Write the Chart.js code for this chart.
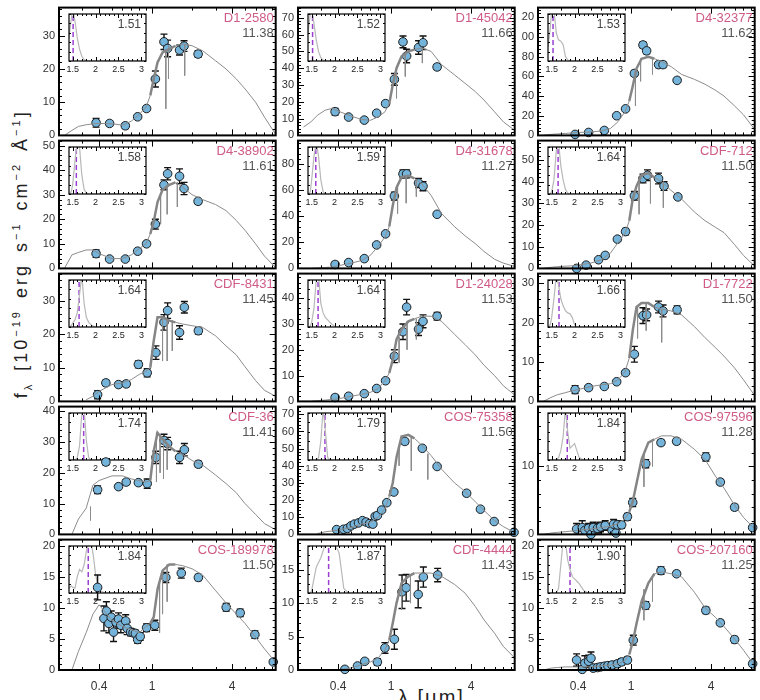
<!DOCTYPE html>
<html>
<head>
<meta charset="utf-8">
<script src="https://cdn.jsdelivr.net/npm/chart.js@4.4.1/dist/chart.umd.min.js"></script>
<style>
  body { margin: 0; background: #fff; }
  #page { position: relative; width: 760px; height: 700px; overflow: hidden; font-family: "Liberation Sans", Arial, sans-serif; }
  #page canvas { position: absolute; }
  #ylab { position: absolute; left: -228px; top: 242px; width: 500px; text-align: center; transform: rotate(-90deg);
          font-size: 18px; letter-spacing: 3px; word-spacing: 3px; color: #222; white-space: nowrap; }
  #xlab { position: absolute; left: 398px; top: 686px; font-size: 20px; letter-spacing: 2px; color: #222; white-space: nowrap; }
  sub, sup { font-size: 11px; }
</style>
</head>
<body>
<div id="page">
  <div id="ylab">f<sub>λ</sub> [10<sup>−19</sup> erg s<sup>−1</sup> cm<sup>−2</sup> Å<sup>−1</sup>]</div>
  <div id="xlab">λ [μm]</div>
</div>
<script>
// wavelength grid of the model spectra (micron)
const modelLam = [0.22,0.25,0.28,0.32,0.36,0.4,0.5,0.6,0.7,0.8,0.9,0.97,1.03,1.1,1.2,1.35,1.5,1.7,2.0,2.4,3.0,3.6,4.3,5.0,6.0,7.0,8.5];
// redshift grid of the P(z) insets
const pzZ = [1.42,1.47,1.5,1.55,1.6,1.65,1.7,1.75,1.8,1.85,1.9,1.95,2.0,2.05,2.1,2.2,2.3,2.5,3.1];
const xLabels = [0.4, 1, 4];
const pzLabels = [1.5, 2, 2.5, 3];

const names = ['D1-2580','D1-45042','D4-32377','D4-38902','D4-31678','CDF-712','CDF-8431','D1-24028','D1-7722',
               'CDF-36','COS-75358','COS-97596','COS-189978','CDF-4444','COS-207160'];
const masses = ['11.38','11.66','11.62','11.61','11.27','11.50','11.45','11.53','11.50','11.41','11.50','11.28','11.50','11.43','11.25'];
const redshifts = ['1.51','1.52','1.53','1.58','1.59','1.64','1.64','1.64','1.66','1.74','1.79','1.84','1.84','1.87','1.90'];
const yTop = [38.5,76,130, 52,98,59, 38,49.5,32.5, 41.5,74.5,18.8, 21,19.5,21];
const yStep = [10,10,20, 10,20,10, 10,10,10, 10,10,10, 5,5,5];

// photometry: wavelengths
const lamD1 = [0.38,0.48,0.63,0.78,0.91,1.06,1.23,1.31,1.61,1.74,2.22];
const lamCdf712 = [0.39,0.46,0.57,0.64,0.79,0.91,1.06,1.23,1.33,1.61,1.77,2.25];
const lamCdf = [0.39,0.45,0.56,0.64,0.79,0.92,1.07,1.23,1.31,1.61,1.75,2.23];
const lamCos75358 = [0.39,0.44,0.47,0.5,0.53,0.57,0.61,0.65,0.69,0.73,0.76,0.79,0.85,0.93,1.05,1.27,1.72,2.22,3.7,4.7,5.96,8.4];
const lamCos97596 = [0.39,0.43,0.45,0.48,0.5,0.52,0.56,0.59,0.64,0.72,0.74,0.77,0.79,0.85,0.94,1.03,1.29,1.68,2.2,3.65,4.69,6.0,8.2];
const lamCos189978 = [0.39,0.435,0.454,0.474,0.494,0.514,0.537,0.56,0.583,0.634,0.65,0.69,0.72,0.75,0.78,0.815,0.91,1.05,1.27,1.66,2.23,3.61,4.6,5.93,8.15];
const lamCdf4444 = [0.45,0.56,0.635,0.79,0.9,1.06,1.21,1.3,1.6,1.75,2.24];
const lamCos207160 = [0.39,0.43,0.45,0.48,0.5,0.52,0.56,0.59,0.63,0.67,0.72,0.79,0.85,0.94,1.04,1.29,1.68,2.2,3.65,4.69,6.0,8.2];

// photometry: fluxes and errors
const fluxD12580 = [3.8,3.6,2.9,5.6,8.1,17,28.2,26.2,25.7,26.9,24.5];
const errD12580 = [1.3,0.8,0.8,0.6,0.8,2.4,2.3,2.5,1.5,1.6,1.0];
const fluxD145042 = [14.1,10.9,9.1,13.2,18.9,33.3,55.6,47.2,52.3,55.1,40.7];
const errD145042 = [2,1,1,1,1.5,3.5,3.5,4,4,4,1.5];
const fluxD432377 = [1,3,5,20,27,63,92,86,72,72,56];
const errD432377 = [1,1.5,2,2,2,3,3,3,3,3,2];
const fluxD438902 = [6,3.8,3.8,7,10,18,34,38.5,37.5,32.5,27.3];
const errD438902 = [1.5,0.8,0.8,0.8,1,2,2,2.5,3,2.5,1];
const fluxD431678 = [3,4.5,7.5,18,26.5,55.5,72.5,72.5,65.5,63,41.5];
const errD431678 = [2,1.5,1.5,1.5,1.5,3,3,3,3.5,3.5,1.5];
const fluxCdf712 = [0,1.5,4,6,13.5,17,33.5,41.5,43,41.5,38,33];
const errCdf712 = [0.5,0.5,0.5,0.5,1,1.5,2,2,2.5,2.5,2,1];
const fluxCdf8431 = [2,5.5,5,5.2,11,8.5,14.5,23.5,27,20.5,28,21];
const errCdf8431 = [1.2,0.8,0.8,0.8,1,1.2,2,2.3,2.3,2,1.7,1];
const fluxD124028 = [1.5,2,3,5,8,17.5,27,36.5,28,31,33];
const errD124028 = [1,0.8,0.6,0.8,0.8,2.5,3,3,2.5,2.5,1.5];
const fluxD17722 = [3,3.5,3.8,5,7.3,12,21.8,22,24,23,23.3];
const errD17722 = [1,0.6,0.5,0.5,0.5,2,2,1.5,1.5,1.5,1];
const fluxCdf36 = [14.5,23.5,15.5,17,16.8,16.5,25,30.5,29.5,25,27.5,22.8];
const errCdf36 = [1.2,1,0.8,0.8,0.8,1.5,2,2,2,2,2,1];
const fluxCos75358 = [2.8,3,3.5,5,6,6.7,8,7.2,6.3,6,10.5,11,14.2,18.5,24.7,54.2,50.2,39.6,24,14.7,7.5,1.2];
const errCos75358 = [0.7,0.5,0.5,0.7,0.7,0.8,1,1,0.8,0.8,1,1,0.8,0.8,1,1.5,1,1,1.5,1,1,1];
const fluxCos97596 = [0.8,1,0.6,0.9,0,1,0.9,1.1,1.3,0.6,1.5,0.2,1.4,1.4,2.6,4.7,10.4,13.5,13.7,11.4,7.7,4,1];
const errCos97596 = [0.8,1,0.8,0.7,0.6,0.8,0.7,0.7,0.7,0.6,0.7,0.6,0.6,0.5,0.5,0.6,0.6,0.4,0.4,0.6,0.4,0.4,0.3];
const fluxCos189978 = [13.3,8.3,9.5,7.5,8.5,6.1,7.7,8.2,7.2,7.9,6.7,6.1,6,5.9,4.9,5.4,6.8,7.2,14.9,15.6,14.9,10.1,9.2,5.7,1.3];
const errCos189978 = [2,2,1.5,1.5,1,1.5,1,1,1.2,1,1,0.6,0.5,0.5,0.6,0.6,0.6,0.8,0.8,0.8,0.5,0.6,0.6,0.6,0.3];
const fluxCdf4444 = [0.1,0.6,1.3,1.2,3.3,4.6,11.7,12.3,11.3,13.9,14.2];
const errCdf4444 = [0.3,0.3,0.3,0.5,0.8,1.5,2.5,2,2,1.5,1];
const fluxCos207160 = [1.6,0.1,1.1,1.4,1.9,0.3,0.4,0.5,0.6,0.7,0.8,1,1.3,1.6,4.8,10.4,16,15.5,9.6,7.6,4.9,1];
const errCos207160 = [1,0.5,1.2,1,1,0.5,0.5,0.5,0.5,0.5,0.5,0.5,0.5,0.5,0.8,0.6,0.6,0.4,0.5,0.4,0.5,0.4];

// best-fit model spectra on modelLam (null = not plotted)
const modelD12580 = [0,1.5,2.7,3.2,3.5,3.6,3.5,3.1,4.3,6.3,8.5,12,17,22,25,26,27,27.5,27,25.5,22.5,20,17,14,10,5.5,0.3];
const modelD145042 = [5,8,12,15,16,14.5,11.5,9.5,9,11,14,19,30,40,47,50,51,52,50,42,36,31,26,21,14,8,3];
const modelD432377 = [0,1,1.5,2,2.5,3,3.5,4.5,7,14,24,35,50,68,78,80,78,75,70,62,57,52,46,40,30,21,6];
const modelD438902 = [0,5.5,6.5,7.5,7.5,6,4,4,5.5,8,10,14,19,27,32,34,35,33,30,28,26,23.5,19.5,15.5,10,5,0.3];
const modelD431678 = [null,0,0.3,0.7,1,2,4,6,10,17,24,32,48,62,70,71,69,65,56,42,32,25,19,13,7,4,1.5];
const modelCdf712 = [0,0.5,0.8,1,1.2,1.5,2.5,4,7,12,16,22,32,38,43,44,42,40,36,32,26,22,19,16.5,11,6,1];
const modelCdf8431 = [null,null,null,0.5,1.5,3,5,5.5,6.5,8,9,10,18,25,25,24,23.5,23,22.5,22,19.5,16.5,13.8,10.3,6.2,3.3,1.5];
const modelD124028 = [null,0,0.3,0.5,0.8,1,2,2.7,3.5,5,8,11,16,24,28,31,32,33,33,31,26,22,18,14,10,6,2.5];
const modelD17722 = [0,1,1.7,2.2,2.7,3,3.8,4.2,4.5,5.5,7.5,11,18,24,25,25,24,23.5,23,22,19,16.2,13.7,11.5,8.5,5.5,1.5];
const modelCdf36 = [null,0,5,8.5,16,17.5,19,19,18,17.5,17,17.5,27,33,31,28.5,27,26,24,22.5,19.3,16.5,13.5,10,6.5,3.5,1.5];
const modelCos75358 = [null,null,0.5,1.5,2,2.5,4,6,7,10,15,22,30,45,57,58,56,52,46,38,30,25,19,14,8,4.5,1];
const modelCos97596 = [0,0.2,0.3,0.4,0.5,0.6,0.8,1,1.2,1.6,2.3,3.3,4.8,7.5,11,13.5,14,14.5,14.5,14,12.5,11,8.6,6.8,4.3,2.5,0.8];
const modelCos189978 = [null,0,3,6,9,10.5,8,7,6.5,6,7,7.5,8.5,13,16,17,17,16.8,16.3,15.3,12.8,10.8,9,7.5,5.3,3.4,1.2];
const modelCdf4444 = [null,null,null,null,null,0,0.3,0.8,1.2,1.8,3,4.5,7,10,13,14,14.5,14.5,14.5,14,12.8,11.5,9.5,7.5,5.5,3.5,1.8];
const modelCos207160 = [0,0.3,0.4,0.5,0.5,0.5,0.5,0.7,0.8,1,1.5,2.5,4.5,7.5,11,14,15.5,15.8,15.5,15,12.5,10,8.5,7,5,3.2,0.7];

// absorption spikes in the models: [lambda, top, bottom]
const spikes = [
  [[1.27,26,8],[1.33,27,17],[1.76,27.5,18]],
  [[1.1,40,22],[1.28,48,35],[1.72,52,43]],
  [[1.08,62,30],[1.18,78,55],[1.45,79,62]],
  [[1.16,30,18],[1.3,34,22],[1.55,35,25]],
  [[1.12,64,42],[1.3,71,50],[1.55,68,55]],
  [[1.15,40,25],[1.4,44,30],[1.75,40,28]],
  [[1.2,25,12],[1.3,24,12],[1.42,24,15]],
  [[1.15,25,15],[1.32,31,20],[1.55,32,24]],
  [[1.12,24,16],[1.3,25,18],[1.7,23.5,15]],
  [[0.345,9,4.5],[1.08,33,17],[1.15,32,20],[1.22,31,18],[1.3,29,21]],
  [[1.15,50,40],[1.42,57,37],[1.89,47,32]],
  [[1.25,12,7],[1.45,14,10]],
  [[1.14,14,6],[1.2,16,9],[1.3,17,11]],
  [[1.2,13,9],[1.4,14,10]],
  [[1.25,13,8],[1.45,15,11]]
];

// P(z) curves on pzZ
const pzD12580 = [0.5,0.9,1.1,0.85,0.5,0.25,0.1,0.03,0,0,0,0,0,0,0,0,0,0,0];
const pzD145042 = [0.6,1.0,1.1,0.8,0.45,0.2,0.07,0.02,0,0,0,0,0,0,0,0,0,0,0];
const pzD432377 = [0.3,0.7,1.1,1.1,0.6,0.45,0.42,0.35,0.1,0.02,0,0,0,0,0,0,0,0,0];
const pzD438902 = [0,0.05,0.2,0.7,1.1,1.0,0.4,0.1,0.02,0,0,0,0,0,0,0,0,0,0];
const pzD431678 = [0,0.05,0.3,0.8,1.1,0.8,0.3,0.05,0,0,0,0,0,0,0,0,0,0,0];
const pzCdf712 = [0,0,0.05,0.3,0.9,1.1,0.6,0.3,0.1,0.02,0,0,0,0,0,0,0,0,0];
const pzCdf8431 = [0,0.03,0.08,0.15,0.3,0.7,1.1,0.5,0.2,0.1,0.05,0.02,0,0,0,0,0,0,0];
const pzD124028 = [0,0.02,0.1,0.4,1.0,1.1,0.5,0.3,0.2,0.15,0.1,0.05,0.02,0,0,0,0,0,0];
const pzD17722 = [0,0.05,0.2,0.6,1.1,0.9,0.6,0.45,0.35,0.3,0.28,0.2,0.05,0,0,0,0,0,0];
const pzCdf36 = [0,0,0,0,0.05,0.3,1.0,1.1,0.4,0.05,0,0,0,0,0,0,0,0,0];
const pzCos75358 = [0,0,0,0,0,0.05,0.4,1.1,0.6,0.05,0,0,0,0,0,0,0,0,0];
const pzCos97596 = [0,0,0,0,0,0.05,0.2,0.5,1.1,0.6,0.25,0.3,0.35,0.2,0.05,0,0,0,0];
const pzCos189978 = [0.1,0.15,0.12,0.1,0.35,0.5,0.45,0.6,0.9,1.05,1.1,0.8,0.4,0.15,0.05,0,0,0,0];
const pzCdf4444 = [0,0,0.05,0.3,0.55,0.65,0.75,0.9,1.05,1.1,1.05,1.0,1.0,0.95,0.85,0.1,0,0,0];
const pzCos207160 = [0,0,0,0,0,0.1,0.6,1.1,1.1,0.7,0.5,0.35,0.3,0.25,0.2,0.05,0,0,0];

const lams = [lamD1,lamD1,lamD1, lamD1,lamD1,lamCdf712, lamCdf,lamD1,lamD1, lamCdf,lamCos75358,lamCos97596, lamCos189978,lamCdf4444,lamCos207160];
const fluxes = [fluxD12580,fluxD145042,fluxD432377, fluxD438902,fluxD431678,fluxCdf712, fluxCdf8431,fluxD124028,fluxD17722,
                fluxCdf36,fluxCos75358,fluxCos97596, fluxCos189978,fluxCdf4444,fluxCos207160];
const errors = [errD12580,errD145042,errD432377, errD438902,errD431678,errCdf712, errCdf8431,errD124028,errD17722,
                errCdf36,errCos75358,errCos97596, errCos189978,errCdf4444,errCos207160];
const models = [modelD12580,modelD145042,modelD432377, modelD438902,modelD431678,modelCdf712, modelCdf8431,modelD124028,modelD17722,
                modelCdf36,modelCos75358,modelCos97596, modelCos189978,modelCdf4444,modelCos207160];
const pzs = [pzD12580,pzD145042,pzD432377, pzD438902,pzD431678,pzCdf712, pzCdf8431,pzD124028,pzD17722,
             pzCdf36,pzCos75358,pzCos97596, pzCos189978,pzCdf4444,pzCos207160];

// layout
const colLeft = [59, 298, 538];
const rowTop = [5, 138, 271, 404, 537];
const plotW = 218, plotH = 133;
const insetW = 77, insetH = 47;
const xMinor = [0.2,0.3,0.5,0.6,0.7,0.8,0.9,2,3,5,6,7,8];

Chart.defaults.font.family = '"Liberation Sans", Arial, sans-serif';
Chart.defaults.color = '#333';

const page = document.getElementById('page');

const steps = function(from, to, step){
  const out = [];
  for (let v = from; v <= to + 1e-9; v += step) out.push(+v.toFixed(4));
  return out;
}

const errorBars = {
  id: 'errorBars',
  beforeDatasetDraw(chart, args){
    const ds = chart.data.datasets[args.index];
    if (!ds.errors) return;
    const {ctx, chartArea: a, scales: {x, y}} = chart;
    ctx.save();
    ctx.beginPath();
    ctx.rect(a.left, a.top, a.width, a.height);
    ctx.clip();
    ctx.strokeStyle = '#111';
    ctx.lineWidth = 1.4;
    ctx.beginPath();
    ds.data.forEach((p, k) => {
      const px = x.getPixelForValue(p.x);
      const hi = y.getPixelForValue(p.y + ds.errors[k]);
      const lo = y.getPixelForValue(p.y - ds.errors[k]);
      ctx.moveTo(px, hi); ctx.lineTo(px, lo);
      ctx.moveTo(px - 3.5, hi); ctx.lineTo(px + 3.5, hi);
      ctx.moveTo(px - 3.5, lo); ctx.lineTo(px + 3.5, lo);
    });
    ctx.stroke();
    ctx.restore();
  }
};

// box with inward ticks on all four sides
const frame = {
  id: 'frame',
  afterDraw(chart, args, opts){
    const {ctx, chartArea: a, scales: {x, y}} = chart;
    ctx.save();
    ctx.strokeStyle = '#000';
    ctx.lineWidth = 1;
    ctx.beginPath();
    const xt = (vals, len) => vals.forEach(v => {
      const px = Math.round(x.getPixelForValue(v)) + 0.5;
      ctx.moveTo(px, a.bottom); ctx.lineTo(px, a.bottom - len);
      ctx.moveTo(px, a.top); ctx.lineTo(px, a.top + len);
    });
    const yt = (vals, len) => vals.forEach(v => {
      const py = Math.round(y.getPixelForValue(v)) + 0.5;
      ctx.moveTo(a.left, py); ctx.lineTo(a.left + len, py);
      ctx.moveTo(a.right, py); ctx.lineTo(a.right - len, py);
    });
    xt(opts.xMajor, opts.major); xt(opts.xMinor, opts.minor);
    yt(opts.yMajor, opts.major); yt(opts.yMinor, opts.minor);
    ctx.stroke();
    ctx.lineWidth = opts.border;
    ctx.strokeRect(a.left, a.top, a.width, a.height);
    ctx.restore();
  }
};

const tag = {
  id: 'tag',
  afterDraw(chart, args, opts){
    const {ctx, chartArea: a} = chart;
    ctx.save();
    ctx.textAlign = 'right';
    ctx.textBaseline = 'alphabetic';
    opts.lines.forEach(l => {
      ctx.font = l.size + 'px "Liberation Sans", Arial, sans-serif';
      ctx.fillStyle = l.color;
      ctx.fillText(l.text, a.right - l.dx, a.top + l.dy);
    });
    ctx.restore();
  }
};

const drawInset = function(i){
  const row = Math.floor(i / 3), col = i % 3;
  const z = parseFloat(redshifts[i]);
  const canvas = document.createElement('canvas');
  canvas.width = insetW + 16;
  canvas.height = insetH + 2 + 14;
  canvas.style.left = (colLeft[col] + 10 - 8) + 'px';
  canvas.style.top = (rowTop[row] + 9 - 2) + 'px';
  page.appendChild(canvas);

  new Chart(canvas, {
    type: 'scatter',
    data: { datasets: [
      { type: 'line', data: pzZ.map((v, k) => ({x: v, y: pzs[i][k]})), borderColor: '#b8b8b8', borderWidth: 1.2, pointRadius: 0 },
      { type: 'line', data: [{x: z, y: 0}, {x: z, y: 1}], borderColor: '#9b3fd1', borderWidth: 1.5, borderDash: [5, 3], pointRadius: 0 }
    ]},
    options: {
      responsive: false, animation: false, events: [],
      layout: { padding: { left: 8, right: 8, top: 2, bottom: 0 } },
      scales: {
        x: { type: 'linear', min: 1.42, max: 3.1, grid: { display: false, drawTicks: false }, border: { display: false },
             ticks: { font: { size: 9 }, padding: 3, color: '#222', maxRotation: 0, autoSkip: false, callback: v => String(v) },
             afterBuildTicks: s => { s.ticks = pzLabels.map(v => ({value: v})); },
             afterFit: s => { s.height = 14; } },
        y: { min: 0, max: 1, display: false }
      },
      plugins: {
        legend: { display: false }, tooltip: { enabled: false },
        frame: { xMajor: pzLabels, xMinor: steps(1.5, 3.0, 0.1), yMajor: [], yMinor: steps(0, 1, 0.2), major: 4, minor: 2, border: 1.2 },
        tag: { lines: [{ text: redshifts[i], size: 12, color: '#444', dx: 5, dy: 14 }] }
      }
    },
    plugins: [frame, tag]
  });
}

const drawPanel = function(i){
  const row = Math.floor(i / 3), col = i % 3;
  const last = row === 4;
  const labelW = col === 2 ? 17 : 22;
  const padT = 8, padB = last ? 0 : 8, padR = 4;
  const xAxisH = last ? 27 : 0;
  const canvas = document.createElement('canvas');
  canvas.width = labelW + plotW + padR;
  canvas.height = padT + plotH + padB + xAxisH;
  canvas.style.left = (colLeft[col] - labelW) + 'px';
  canvas.style.top = (rowTop[row] - padT) + 'px';
  page.appendChild(canvas);

  const modelPts = [];
  modelLam.forEach((l, k) => { if (models[i][k] !== null) modelPts.push({x: l, y: models[i][k]}); });
  const spikePts = [];
  spikes[i].forEach(s => { spikePts.push({x: s[0], y: s[1]}, {x: s[0], y: s[2]}, {x: s[0], y: null}); });
  const photPts = lams[i].map((l, k) => ({x: l, y: fluxes[i][k]}));
  const dense = ctx => ctx.p0.parsed.x >= 0.96 && ctx.p1.parsed.x <= 1.55;

  new Chart(canvas, {
    type: 'scatter',
    data: { datasets: [
      { type: 'line', data: modelPts, borderColor: '#8c8c8c', borderWidth: 1, pointRadius: 0,
        segment: { borderWidth: ctx => dense(ctx) ? 2.5 : 1, borderColor: ctx => dense(ctx) ? '#858585' : '#8c8c8c' } },
      { type: 'line', data: spikePts, borderColor: '#8c8c8c', borderWidth: 1, pointRadius: 0, spanGaps: false },
      { data: photPts, errors: errors[i], pointRadius: 4.3, pointBackgroundColor: '#74b3da', pointBorderColor: '#1c1c1c',
        pointBorderWidth: 1, clip: 6 }
    ]},
    options: {
      responsive: false, animation: false, events: [],
      layout: { padding: { left: 0, right: padR, top: padT, bottom: padB } },
      scales: {
        x: { type: 'logarithmic', min: 0.2, max: 8.5, grid: { display: false, drawTicks: false }, border: { display: false },
             ticks: { display: last, autoSkip: false, maxRotation: 0, padding: 9, font: { size: 12 }, color: '#333', callback: v => String(v) },
             afterBuildTicks: s => { s.ticks = xLabels.map(v => ({value: v})); },
             afterFit: s => { s.height = xAxisH; } },
        y: { min: 0, max: yTop[i], grid: { display: false, drawTicks: false }, border: { display: false },
             ticks: { padding: 4, font: { size: 11 }, color: '#333' },
             afterBuildTicks: s => { s.ticks = steps(0, yTop[i], yStep[i]).map(v => ({value: v})); },
             afterFit: s => { s.width = labelW; } }
      },
      plugins: {
        legend: { display: false }, tooltip: { enabled: false },
        frame: { xMajor: xLabels, xMinor: xMinor, yMajor: steps(0, yTop[i], yStep[i]), yMinor: steps(0, yTop[i], yStep[i] / 5),
                 major: 6, minor: 3, border: 2 },
        tag: { lines: [{ text: names[i], size: 13, color: '#cf5b86', dx: 2, dy: 14 },
                       { text: masses[i], size: 13, color: '#555', dx: 2, dy: 29 }] }
      }
    },
    plugins: [errorBars, frame, tag]
  });
}

names.forEach((n, i) => drawInset(i));
names.forEach((n, i) => drawPanel(i));
</script>
</body>
</html>
